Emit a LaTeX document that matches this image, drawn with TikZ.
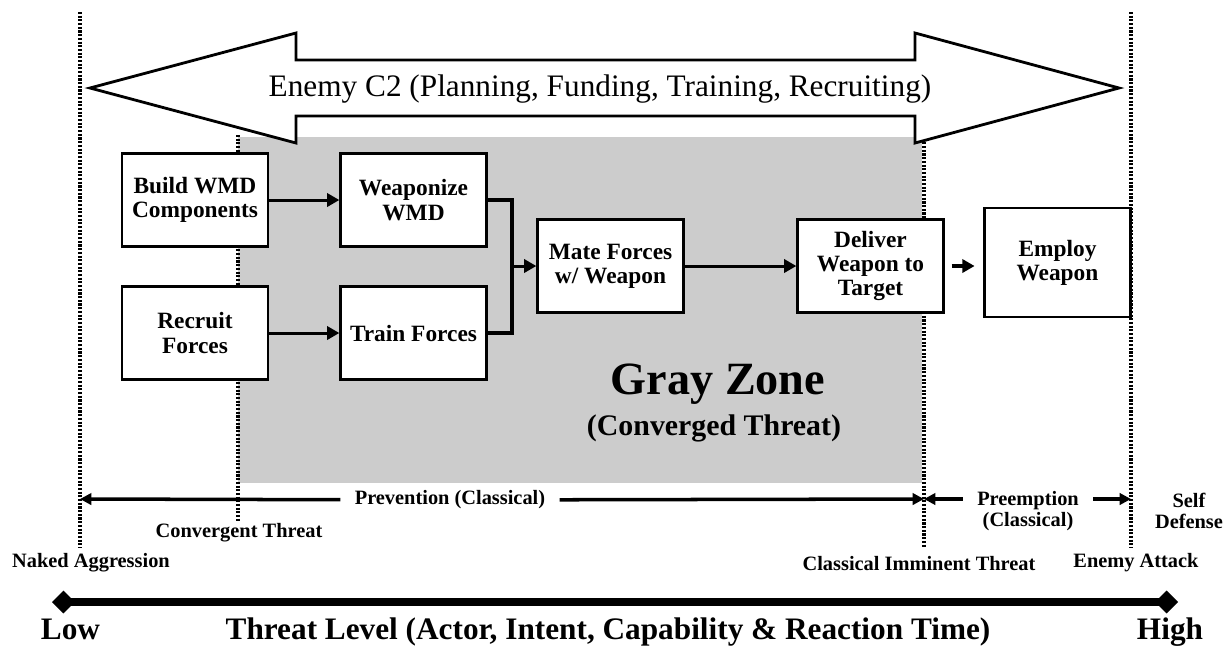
\documentclass[tikz,border=0pt]{standalone}
\usepackage{fontspec}
\setmainfont{Liberation Serif}
\usetikzlibrary{arrows.meta}

\begin{document}
\begin{tikzpicture}[x=0.02cm,y=-0.02cm,
  box/.style={draw,line width=1.3pt,fill=white,minimum width=2.92cm,minimum height=1.86cm,align=center,inner sep=1pt,font=\fontsize{13.3}{13.8}\selectfont\bfseries},
  flow/.style={line width=1.7pt,-{Triangle[length=7pt,width=7.5pt]}},
  merge/.style={line width=2.8pt},
  border/.style={line width=1.9pt,dash pattern=on 1.2pt off 0.9pt},
  span/.style={line width=2pt,-{Triangle[length=6.5pt,width=6.5pt]}},
  lbl/.style={font=\fontsize{11.6}{12}\selectfont\bfseries,align=center,inner sep=0pt},
  big/.style={font=\fontsize{17.8}{20}\selectfont\bfseries,inner sep=0pt,anchor=base}]
\useasboundingbox (0,0) rectangle (1227,647);

\fill[black!20] (238,137) rectangle (922,483);
\node[font=\fontsize{26.3}{28}\selectfont\bfseries] (gz) at (718,384) {Gray Zone};
\node[font=\fontsize{17}{20}\selectfont\bfseries] (cv) at (714,428) {(Converged Threat)};

\coordinate (na1) at (80,12);
\coordinate (na2) at (80,548);
\coordinate (ct1) at (238,135);
\coordinate (ct2) at (238,522);
\coordinate (ci1) at (924,135);
\coordinate (ci2) at (924,548);
\coordinate (ea1) at (1131,12);
\coordinate (ea2) at (1131,548);
\draw[border] (na1) -- (na2);
\draw[border] (ct1) -- (ct2);
\draw[border] (ci1) -- (ci2);
\draw[border] (ea1) -- (ea2);

\draw[line width=1.6pt,fill=white] (90,88) -- (296,33) -- (296,60) -- (915,60) -- (915,33) -- (1119,88)
  -- (915,143) -- (915,116) -- (296,116) -- (296,143) -- cycle;
\node[font=\fontsize{17.8}{20}\selectfont] (c2) at (600,89) {Enemy C2 (Planning, Funding, Training, Recruiting)};

\node[box] (build) at (195,200) {Build WMD\\Components};
\node[box] (recruit) at (195,333) {Recruit\\Forces};
\node[box] (weap) at (413.5,200) {Weaponize\\WMD};
\node[box] (train) at (413.5,333) {Train Forces};
\node[box] (mate) at (610.5,266) {Mate Forces\\w/ Weapon};
\node[box] (deliver) at (870.5,266) {Deliver\\Weapon to\\Target};
\node[box,minimum height=2.18cm] (employ) at (1057.5,262.5) {Employ\\Weapon};

\coordinate (jn) at (512,266);
\draw[flow] (build) -- (weap);
\draw[flow] (recruit) -- (train);
\draw[merge] (weap.east) -| (jn) |- (train.east);
\draw[flow] (jn) -- (mate);
\draw[flow] (mate) -- (deliver);
\draw[flow,line width=2.2pt,shorten <=4pt,shorten >=5pt] (deliver.east) -- (deliver.east -| employ.west);

\coordinate (nap) at (80,499);
\coordinate (cip) at (924,499);
\coordinate (eap) at (1131,499);
\node[lbl,inner xsep=8pt] (prev) at (450,500) {Prevention (Classical)};
\draw[span] (prev) -- (nap);
\draw[span] (prev) -- (cip);
\node[lbl,inner xsep=8pt] (preem) at (1028,511) {Preemption\\(Classical)};
\draw[span] (preem.west |- cip) -- (cip);
\draw[span] (preem.east |- eap) -- (eap);
\node[lbl] (self) at (1189,511) {Self\\Defense};
\node[lbl] (conv) at (239,533) {Convergent Threat};
\node[lbl] (naked) at (91,563) {Naked Aggression};
\node[lbl] (imm) at (919,564) {Classical Imminent Threat};
\node[lbl] (att) at (1136,563) {Enemy Attack};

\coordinate (lo) at (52,602);
\coordinate (hi) at (1178,602);
\draw[line width=5.1pt,{Diamond[length=13pt,width=13pt]}-{Diamond[length=13pt,width=13pt]}] (lo) -- (hi);
\node[big] (low) at (70.5,639) {Low};
\node[big] (tl) at (608,639) {Threat Level (Actor, Intent, Capability \& Reaction Time)};
\node[big] (high) at (1170,639) {High};
\end{tikzpicture}
\end{document}
